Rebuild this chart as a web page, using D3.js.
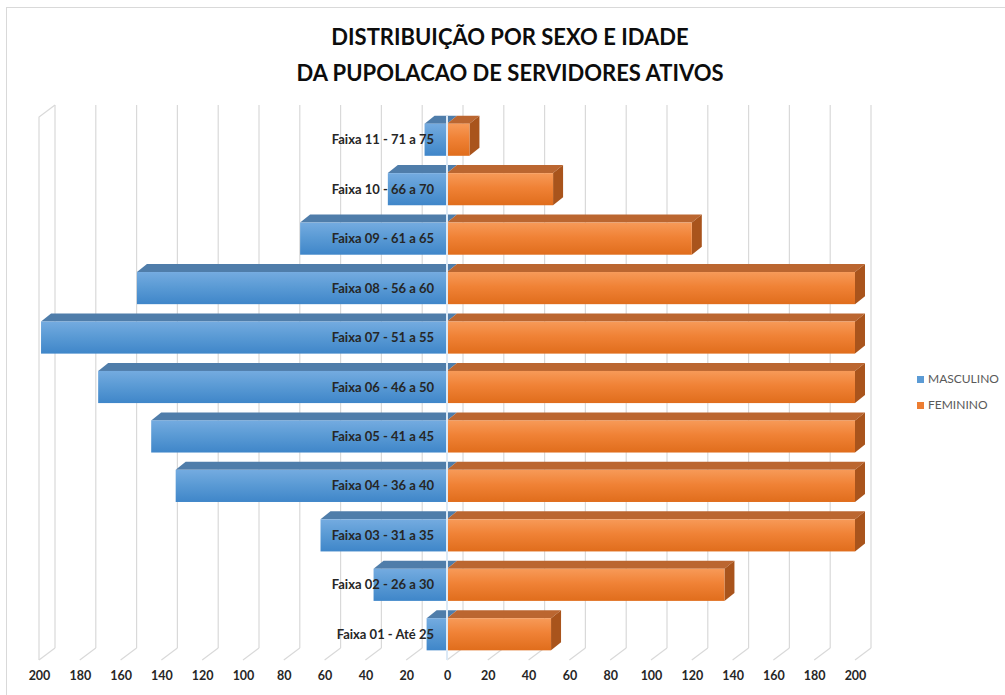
<!DOCTYPE html>
<html>
<head>
<meta charset="utf-8">
<script src="https://cdn.jsdelivr.net/npm/d3@7.9.0/dist/d3.min.js"></script>
<style>
  body { margin: 0; background: #fff; }
  svg { display: block; font-family: Lato, "Open Sans", sans-serif; }
</style>
</head>
<body>
<svg id="chart"></svg>
<script>
// --- Data ---
const categories = [
  "Faixa 01 - Até 25", "Faixa 02 - 26 a 30", "Faixa 03 - 31 a 35",
  "Faixa 04 - 36 a 40", "Faixa 05 - 41 a 45", "Faixa 06 - 46 a 50",
  "Faixa 07 - 51 a 55", "Faixa 08 - 56 a 60", "Faixa 09 - 61 a 65",
  "Faixa 10 - 66 a 70", "Faixa 11 - 71 a 75"
];
const masculino = [10, 36, 62, 133, 145, 171, 199, 152, 72, 29, 11];
const feminino  = [51, 136, 200, 200, 200, 200, 200, 200, 120, 52, 11];
const tickValues = [0, 20, 40, 60, 80, 100, 120, 140, 160, 180, 200];
const seriesNames = ["MASCULINO", "FEMININO"];
const titleLines = ["DISTRIBUIÇÃO POR SEXO E IDADE", "DA PUPOLACAO DE SERVIDORES ATIVOS"];

const width = 1005;
const height = 695;

const svg = d3.select('#chart')
  .attr('width', width)
  .attr('height', height);

// gradients for bar fronts
const defs = svg.append("defs");
function grad(id, top, mid, bottom) {
  const g = defs.append("linearGradient").attr("id", id)
    .attr("x1", 0).attr("y1", 0).attr("x2", 0).attr("y2", 1);
  g.append("stop").attr("offset", "0%").attr("stop-color", top);
  g.append("stop").attr("offset", "45%").attr("stop-color", mid);
  g.append("stop").attr("offset", "100%").attr("stop-color", bottom);
}
grad("gBlue", "#74abe0", "#5b9bd5", "#3f86c9");
grad("gOrange", "#f79a58", "#f08236", "#e06d1c");

const blue = { front: "url(#gBlue)", top: "#4f7daa", side: "#3d6c9c" };
const orange = { front: "url(#gOrange)", top: "#bb6630", side: "#a9541c" };

// chart border
svg.append("rect")
  .attr("x", 6.5).attr("y", 7.5)
  .attr("width", 1010).attr("height", 700)
  .attr("fill", "none").attr("stroke", "#d9d9d9");

// --- Scales ---
const center = 447;
const xL = d3.scaleLinear().domain([0, 200]).range([center, 39]);
const xR = d3.scaleLinear().domain([0, 200]).range([center, 855]);
const y = d3.scaleBand()
  .domain(categories.slice().reverse())
  .range([115, 659])
  .paddingInner(0.35)
  .paddingOuter(0.175);

// 3d offsets
const wallDx = 16, wallDy = 12;   // floor/back wall depth
const barDx = 10, barDy = 8;      // bar depth
const floorFront = 660, floorBack = floorFront - wallDy, wallTop = 105;

// --- Grid (back wall + floor) ---
const grid = svg.append("g").attr("stroke", "#d9d9d9").attr("fill", "none").attr("stroke-width", 1.2);
const gridX = tickValues.slice(1).reverse().map(v => xL(v))
  .concat(tickValues.map(v => xR(v)));
gridX.forEach(fx => {
  grid.append("line")
    .attr("x1", fx + wallDx).attr("x2", fx + wallDx)
    .attr("y1", wallTop).attr("y2", floorBack);
  grid.append("line")
    .attr("x1", fx + wallDx).attr("y1", floorBack)
    .attr("x2", fx).attr("y2", floorFront);
});
// left side wall edge
grid.append("polyline")
  .attr("points", [[xL(200) + wallDx, wallTop], [xL(200), wallTop + wallDy], [xL(200), floorFront]].join(" "));

// --- Bars ---
function drawBar(g, x0, x1, yt, h, col, showSide) {
  g.append("polygon")
    .attr("points", [[x0, yt], [x0 + barDx, yt - barDy], [x1 + barDx, yt - barDy], [x1, yt]].join(" "))
    .attr("fill", col.top);
  if (showSide) {
    g.append("polygon")
      .attr("points", [[x1, yt], [x1 + barDx, yt - barDy], [x1 + barDx, yt + h - barDy], [x1, yt + h]].join(" "))
      .attr("fill", col.side);
  }
  g.append("rect")
    .attr("x", x0).attr("y", yt)
    .attr("width", x1 - x0).attr("height", h)
    .attr("fill", col.front);
}

const bars = svg.append("g");
categories.forEach((c, i) => {
  const g = bars.append("g");
  const yt = y(c), h = y.bandwidth();
  drawBar(g, xL(masculino[i]), center, yt, h, blue, false);
  drawBar(g, center, xR(feminino[i]), yt, h, orange, true);
});

// center axis line
svg.append("line")
  .attr("x1", center).attr("x2", center)
  .attr("y1", y(categories[10]) - barDy).attr("y2", floorFront)
  .attr("stroke", "#dce9f6").attr("stroke-width", 2);

// category labels
svg.append("g")
  .selectAll("text")
  .data(categories)
  .join("text")
  .attr("x", 434)
  .attr("y", d => y(d) + y.bandwidth() / 2)
  .attr("dy", "0.35em")
  .attr("text-anchor", "end")
  .attr("font-size", 13)
  .attr("font-weight", "bold")
  .attr("fill", "#262626")
  .text(d => d);

// --- Axes ---
function styleAxis(g) {
  g.select(".domain").remove();
  g.selectAll("text")
    .attr("font-family", "Lato, sans-serif")
    .attr("font-size", 12.5)
    .attr("font-weight", "bold")
    .attr("fill", "#262626");
}
svg.append("g")
  .attr("transform", `translate(0, ${floorFront})`)
  .call(d3.axisBottom(xL).tickValues(tickValues.slice(1)).tickSize(0).tickPadding(11))
  .call(styleAxis);
svg.append("g")
  .attr("transform", `translate(0, ${floorFront})`)
  .call(d3.axisBottom(xR).tickValues(tickValues).tickSize(0).tickPadding(11))
  .call(styleAxis);

// --- Title ---
svg.append("text")
  .attr("x", 510).attr("y", 45)
  .attr("text-anchor", "middle")
  .attr("font-size", 22).attr("font-weight", "bold").attr("fill", "#0d0d0d")
  .selectAll("tspan")
  .data(titleLines)
  .join("tspan")
  .attr("x", 510)
  .attr("dy", (d, i) => i === 0 ? 0 : 36)
  .text(d => d);

// --- Legend ---
const legend = svg.append("g").attr("transform", "translate(917, 376)");
const legendColors = ["#5b9bd5", "#ed7d31"];
seriesNames.forEach((name, i) => {
  const row = legend.append("g").attr("transform", `translate(0, ${i * 26})`);
  row.append("rect").attr("width", 7).attr("height", 7).attr("fill", legendColors[i]);
  row.append("text")
    .attr("x", 11).attr("y", 7)
    .attr("font-size", 12).attr("fill", "#595959")
    .text(name);
});
</script>
</body>
</html>
